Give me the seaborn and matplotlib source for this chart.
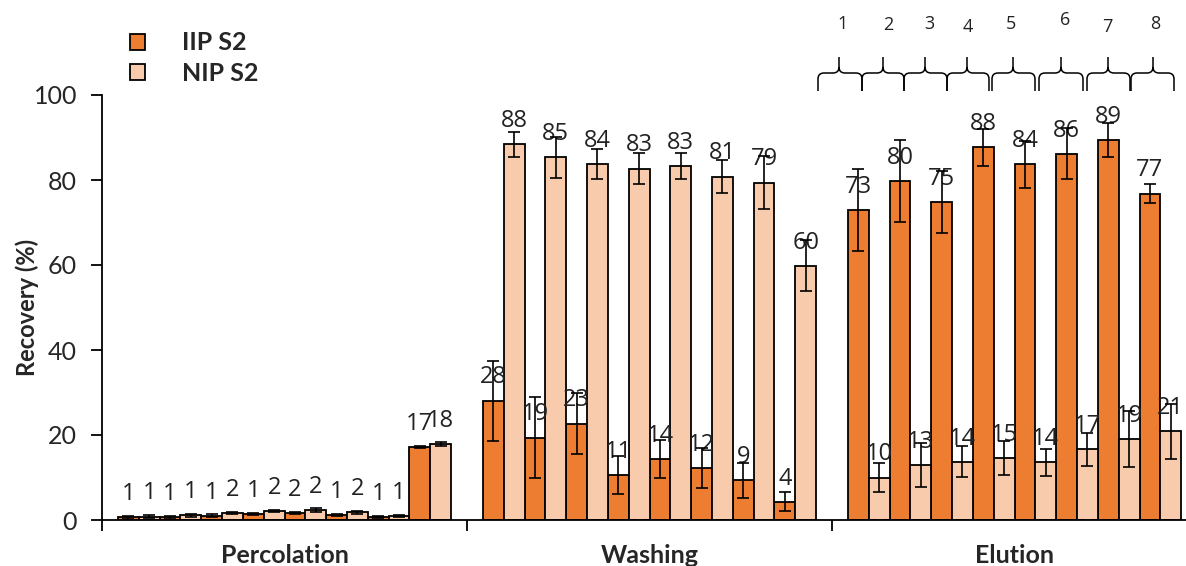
import numpy as np
import pandas as pd
import matplotlib
matplotlib.use("Agg")
import matplotlib.pyplot as plt
from matplotlib.path import Path
from matplotlib.patches import PathPatch, Patch
from matplotlib.container import BarContainer
import seaborn as sns

# ---------------- data ----------------
stages = ["Percolation", "Washing", "Elution"]
series = ["IIP S2", "NIP S2"]

perc_iip = [0.6, 0.6, 1.0, 1.4, 1.6, 1.2, 0.7, 17.2]
perc_nip = [0.8, 1.1, 1.6, 2.1, 2.4, 1.8, 0.9, 17.8]
perc_iip_err = [0.3, 0.3, 0.3, 0.3, 0.3, 0.3, 0.3, 0.3]
perc_nip_err = [0.3, 0.3, 0.3, 0.3, 0.4, 0.3, 0.3, 0.5]

wash_iip = [28.1, 19.4, 22.7, 10.6, 14.3, 12.2, 9.3, 4.3]
wash_nip = [88.4, 85.3, 83.8, 82.7, 83.3, 80.8, 79.4, 59.8]
wash_iip_err = [9.4, 9.6, 7.2, 4.4, 4.5, 4.7, 4.1, 2.2]
wash_nip_err = [3.0, 4.8, 3.5, 3.7, 3.0, 3.9, 6.3, 6.0]

elu_iip = [72.9, 79.8, 74.9, 87.7, 83.7, 86.2, 89.4, 76.8]
elu_nip = [10.0, 13.0, 13.7, 14.6, 13.6, 16.6, 19.1, 20.9]
elu_iip_err = [9.7, 9.6, 7.3, 4.4, 5.5, 6.0, 4.0, 2.3]
elu_nip_err = [3.5, 5.2, 3.6, 4.1, 3.2, 3.8, 6.6, 6.5]

brace_labels = ["1", "2", "3", "4", "5", "6", "7", "8"]

# ---------------- layout constants ----------------
W, H = 1186, 566
G = 8.764          # width of one stage group in pair units
NPAIR = 8
C_IIP = "#ED7D31"
C_NIP = "#F8CBAD"

values = {"Percolation": (perc_iip, perc_nip, perc_iip_err, perc_nip_err),
          "Washing": (wash_iip, wash_nip, wash_iip_err, wash_nip_err),
          "Elution": (elu_iip, elu_nip, elu_iip_err, elu_nip_err)}

rows = []
for g, st in enumerate(stages):
    iip, nip, ei, en = values[st]
    for p in range(NPAIR):
        xc = g * G + G / 2 + (p - 3.5)
        rows.append(dict(stage=st, pair=p, x=xc, series=series[0], value=iip[p], err=ei[p]))
        rows.append(dict(stage=st, pair=p, x=xc, series=series[1], value=nip[p], err=en[p]))
df = pd.DataFrame(rows)

sns.set_theme(style="white")
plt.rcParams["font.family"] = ["Lato", "DejaVu Sans"]

fig = plt.figure(figsize=(W / 100, H / 100), dpi=100)
ax = fig.add_axes([102 / W, 1 - 520 / H, 1 - 102 / W, (520 - 95) / H])

sns.barplot(data=df, x="x", y="value", hue="series", hue_order=series,
            palette={series[0]: C_IIP, series[1]: C_NIP}, native_scale=True,
            width=1.0, dodge=True, saturation=1, errorbar=None,
            edgecolor="black", linewidth=1.3, ax=ax, legend=True)

bar_conts = [c for c in ax.containers if isinstance(c, BarContainer)]

# error bars
for s, off in zip(series, [-0.25, 0.25]):
    d = df[df.series == s]
    ax.errorbar(d.x + off, d.value, yerr=d.err, fmt="none", ecolor="black",
                elinewidth=1.2, capsize=4.5, capthick=1.2, zorder=5, clip_on=False)

# value labels
for cont in bar_conts:
    ax.bar_label(cont, fmt="%.0f", padding=8, fontsize=17, color="#222222",
                 family=["Open Sans", "DejaVu Sans"], clip_on=False)

ax.set_ylim(0, 100)
ax.set_xlim(0, (W - 102) / 41.65)
ax.set_yticks([0, 20, 40, 60, 80, 100])
ax.set_ylabel("Recovery (%)", fontsize=17, fontweight="bold")
ax.yaxis.set_label_coords(-0.058, 0.5)
ax.set_xlabel("")
ax.set_xticks([0, G, 2 * G])
ax.set_xticklabels([])
ax.set_xticks([g * G + G / 2 for g in range(3)], minor=True)
ax.set_xticklabels(stages, minor=True, fontsize=18, fontweight="bold")
ax.tick_params(axis="x", which="major", direction="out", length=8, width=1.3, color="black", bottom=True)
ax.tick_params(axis="x", which="minor", length=0, pad=17, bottom=True)
ax.tick_params(axis="y", direction="out", length=8, width=1.3, color="black", labelsize=18, pad=10, left=True)
for sp in ["top", "right"]:
    ax.spines[sp].set_visible(False)
for sp in ["left", "bottom"]:
    ax.spines[sp].set_color("black")
    ax.spines[sp].set_linewidth(1.3)

# legend
handles = [Patch(facecolor=C_IIP, edgecolor="black", linewidth=1.3),
           Patch(facecolor=C_NIP, edgecolor="black", linewidth=1.3)]
leg = ax.legend(handles, series, loc="upper left", bbox_to_anchor=(112 / W, 1 - 14 / H),
                bbox_transform=fig.transFigure, frameon=False, handlelength=0.62,
                handleheight=0.62, handletextpad=1.5, labelspacing=0.3,
                borderpad=0.2, prop={"weight": "bold", "size": 18})

# braces above the elution group (annotation, figure pixel coordinates)
braces = [(818, 862, 839), (862, 904, 883), (904, 947, 925), (947, 989, 967),
          (992, 1035, 1013), (1039, 1083, 1061), (1087, 1130, 1108), (1131, 1174, 1153)]
num_xy = [(843, 24), (888, 25), (929, 24), (968, 27), (1011, 24), (1065, 20), (1107, 27), (1155, 24)]

def fpt(x, y):
    return (x / W, 1 - y / H)

ytip, ymid, yend, r = 57, 73, 91, 6
for (x0, x1, xm), lab, (tx, ty) in zip(braces, brace_labels, num_xy):
    verts = [fpt(x0, yend), fpt(x0, ymid + r), fpt(x0, ymid), fpt(x0 + r, ymid),
             fpt(xm - r, ymid), fpt(xm, ymid), fpt(xm, ymid - r), fpt(xm, ytip),
             fpt(xm, ymid - r), fpt(xm, ymid), fpt(xm + r, ymid),
             fpt(x1 - r, ymid), fpt(x1, ymid), fpt(x1, ymid + r), fpt(x1, yend)]
    codes = [Path.MOVETO, Path.LINETO, Path.CURVE3, Path.CURVE3,
             Path.LINETO, Path.CURVE3, Path.CURVE3, Path.LINETO,
             Path.MOVETO, Path.CURVE3, Path.CURVE3,
             Path.LINETO, Path.CURVE3, Path.CURVE3, Path.LINETO]
    fig.add_artist(PathPatch(Path(verts, codes), transform=fig.transFigure,
                             facecolor="none", edgecolor="black", linewidth=1.1))
    fig.text(tx / W, 1 - ty / H, lab, ha="center", va="center", fontsize=13,
             family=["Open Sans", "DejaVu Sans"], color="#222222")

fig.savefig("out.png", dpi=100)
